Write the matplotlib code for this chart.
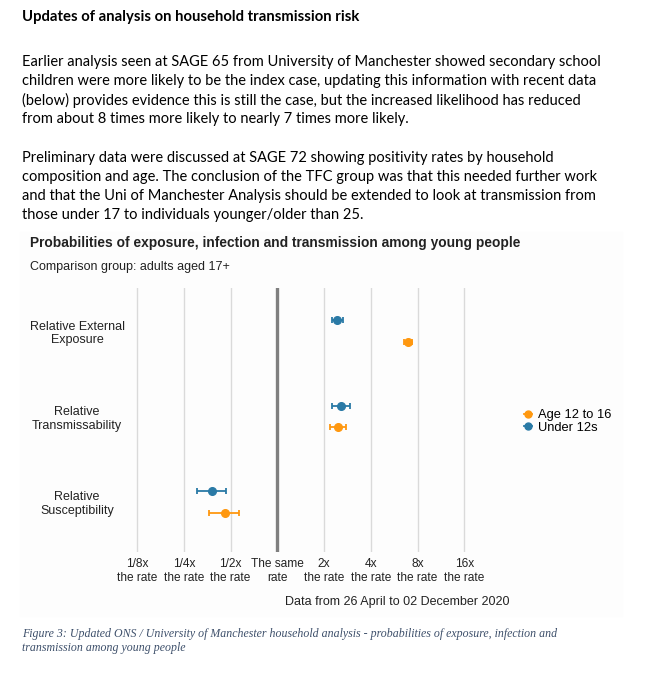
import numpy as np
import matplotlib.pyplot as plt
from matplotlib.patches import Rectangle
from matplotlib.lines import Line2D

W, H = 655, 679

# document text
heading = "Updates of analysis on household transmission risk"
para1 = ["Earlier analysis seen at SAGE 65 from University of Manchester showed secondary school",
         "children were more likely to be the index case, updating this information with recent data",
         "(below) provides evidence this is still the case, but the increased likelihood has reduced",
         "from about 8 times more likely to nearly 7 times more likely."]
para2 = ["Preliminary data were discussed at SAGE 72 showing positivity rates by household",
         "composition and age. The conclusion of the TFC group was that this needed further work",
         "and that the Uni of Manchester Analysis should be extended to look at transmission from",
         "those under 17 to individuals younger/older than 25."]
caption = ["Figure 3: Updated ONS / University of Manchester household analysis - probabilities of exposure, infection and",
           "transmission among young people"]

# chart data: rate relative to adults aged 17+
categories = ["Relative External\nExposure", "Relative\nTransmissability", "Relative\nSusceptibility"]
series = ["Age 12 to 16", "Under 12s"]
under12_est = [2.44, 2.56, 0.38]
under12_lo = [2.26, 2.26, 0.305]
under12_hi = [2.64, 2.95, 0.47]
teen_est = [6.95, 2.47, 0.46]
teen_lo = [6.55, 2.19, 0.365]
teen_hi = [7.37, 2.76, 0.57]
tick_values = [1/8, 1/4, 1/2, 1, 2, 4, 8, 16]
tick_labels = ["1/8x\nthe rate", "1/4x\nthe rate", "1/2x\nthe rate", "The same\nrate",
               "2x\nthe rate", "4x\nthe rate", "8x\nthe rate", "16x\nthe rate"]

BLUE = "#2a7aa6"
ORANGE = "#ff9810"

def fx(px):
    return px / W

def fy(py):
    return 1 - py / H

fig = plt.figure(figsize=(W / 100, H / 100), dpi=100)

body = dict(family=["Lato", "DejaVu Sans"], fontsize=10.5, color="black", va="center")
fig.text(fx(22), fy(17), heading, fontweight="bold", fontsize=10.7,
         family=["Lato", "DejaVu Sans"], color="black", va="center")
for i, line in enumerate(para1):
    fig.text(fx(22), fy(62 + 19.1 * i), line, **body)
for i, line in enumerate(para2):
    fig.text(fx(22), fy(158 + 19.1 * i), line, **body)

# faint chart panel
fig.patches.append(Rectangle((fx(20), fy(616)), (622 - 20) / W, (616 - 232) / H,
                             transform=fig.transFigure, color="#fdfdfd", zorder=-5))

chart = dict(family=["Liberation Sans", "DejaVu Sans"], color="#222222", va="center")
fig.text(fx(30), fy(243), "Probabilities of exposure, infection and transmission among young people",
         fontsize=9.95, fontweight="bold", **chart)
fig.text(fx(30), fy(267), "Comparison group: adults aged 17+", fontsize=9, **chart)
fig.text(fx(397), fy(602), "Data from 26 April to 02 December 2020", fontsize=9, ha="center", **chart)

for i, line in enumerate(caption):
    fig.text(fx(22), fy(634 + 14 * i), line, family=["Liberation Serif"], style="italic",
             fontsize=8.6, color="#3d4f6a", va="center")

# axes geometry (pixels)
left, right, top, bottom = 100, 622, 288, 552
zero_px, per_doubling = 277.3, 46.75
ax = fig.add_axes([fx(left), fy(bottom), (right - left) / W, (bottom - top) / H])
ax.set_facecolor("none")
ax.set_xscale("log", base=2)
ax.set_xlim(2 ** ((left - zero_px) / per_doubling), 2 ** ((right - zero_px) / per_doubling))
ax.set_ylim(2.585, -0.503)

ax.set_xticks(tick_values)
ax.set_xticklabels(tick_labels, fontsize=8.6, color="#222222", linespacing=1.25,
                   family=["Liberation Sans"])
ax.set_xticks([], minor=True)
ax.set_yticks(range(len(categories)))
ax.set_yticklabels(categories, fontsize=9, color="#222222", family=["Liberation Sans"],
                   ha="center", multialignment="center", linespacing=1.2)
ax.tick_params(axis="x", length=0, pad=4)
ax.tick_params(axis="y", length=0, pad=23 * 0.72)
ax.grid(axis="x", color="#dadada", lw=1)
ax.axvline(1, color="#7f7f7f", lw=2.4, zorder=2)
for s in ax.spines.values():
    s.set_visible(False)

y = np.arange(len(categories))
off = 0.123
est = np.array(under12_est)
ax.errorbar(est, y - off, xerr=[est - np.array(under12_lo), np.array(under12_hi) - est],
            fmt="o", color=BLUE, ms=5.5, capsize=2.5, elinewidth=1.3, capthick=1.3, zorder=3)
est = np.array(teen_est)
ax.errorbar(est, y + off, xerr=[est - np.array(teen_lo), np.array(teen_hi) - est],
            fmt="o", color=ORANGE, ms=5.5, capsize=2.5, elinewidth=1.3, capthick=1.3, zorder=3)

handles = [Line2D([0], [0], color=ORANGE, marker="o", ms=5, lw=1.3),
           Line2D([0], [0], color=BLUE, marker="o", ms=5, lw=1.3)]
ax.legend(handles, series, loc="upper left", bbox_to_anchor=(fx(518), fy(403)),
          bbox_transform=fig.transFigure, frameon=False, handlelength=0.6, handletextpad=0.45,
          labelspacing=0.0, borderpad=0, prop=dict(family="Liberation Sans", size=9.3))

fig.savefig("out.png", dpi=100)
